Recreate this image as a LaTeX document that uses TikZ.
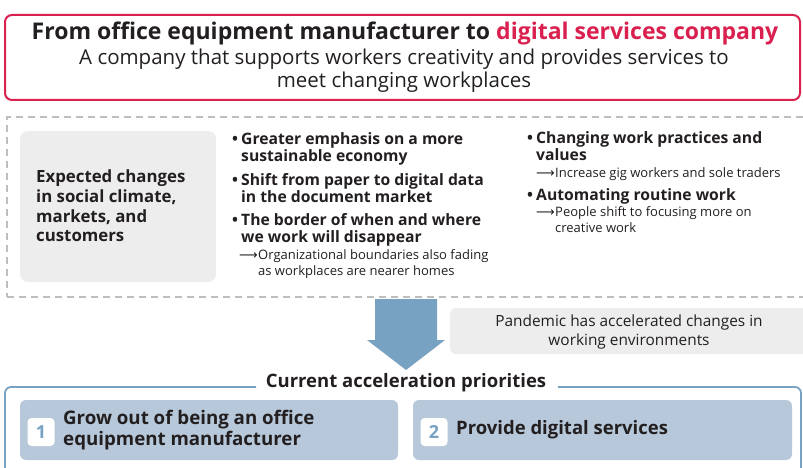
\documentclass[tikz,border=0pt]{standalone}
\usepackage{fontspec}
\setmainfont{Open Sans}
\newfontfamily\dvfont{DejaVu Sans}
\definecolor{tred}{HTML}{D9204F}
\definecolor{dgray}{HTML}{BEBEBE}
\definecolor{lgray}{HTML}{EDEDED}
\definecolor{tblue}{HTML}{78A2C1}
\definecolor{bfill}{HTML}{B6C8DA}
\definecolor{txt}{HTML}{231F20}
\tikzset{
  box/.style={anchor=north west, inner sep=0pt, outer sep=0pt},
  bul/.style={anchor=north west, inner sep=0pt, align=left, text=txt, font=\fontsize{15.7}{17.5}\selectfont\bfseries},
  sub/.style={anchor=north west, inner sep=0pt, align=left, text=txt, font=\fontsize{13}{16.5}\selectfont},
}
\newcommand{\bl}{\makebox[9pt][l]{•}}
\newcommand{\ar}{\makebox[19pt][l]{{\dvfont ⟶}}}
\begin{document}
\begin{tikzpicture}[x=1pt,y=-1pt]
\useasboundingbox (0,0) rectangle (803,468);
% top box
\node[box, draw=tred, line width=2pt, rounded corners=7pt, minimum width=795pt, minimum height=85pt] (top) at (5,15) {};
\node[text=txt, font=\fontsize{23}{25}\selectfont\bfseries, inner sep=0pt] (title) at (405,33) {From office equipment manufacturer to \textcolor{tred}{digital services company}};
\node[text=txt, font=\fontsize{20.5}{23}\selectfont, inner sep=0pt, align=center] (subt) at (404,71) {A company that supports workers creativity and provides services to\\meet changing workplaces};
% dashed box
\node[box, draw=dgray, line width=1.6pt, dash pattern=on 7pt off 5pt, minimum width=800pt, minimum height=180pt] (dash) at (7,117) {};
\node[box, fill=lgray, rounded corners=8pt, minimum width=196pt, minimum height=151pt] (exp) at (20,131) {};
\node[anchor=west, inner sep=0pt, align=left, text=txt, font=\fontsize{16.8}{19.7}\selectfont\bfseries] (expt) at (36,206) {Expected changes\\in social climate,\\markets, and\\customers};
% column 1
\node[bul] (b1) at (232,132) {\bl Greater emphasis on a more\\\hspace*{9pt}sustainable economy};
\node[bul] (b2) at (232,173) {\bl Shift from paper to digital data\\\hspace*{9pt}in the document market};
\node[bul] (b3) at (232,213) {\bl The border of when and where\\\hspace*{9pt}we work will disappear};
\node[sub] (s3) at (239,249) {\ar Organizational boundaries also fading\\\hspace*{19pt}as workplaces are nearer homes};
% column 2
\node[bul] (b4) at (527,131) {\bl Changing work practices and\\\hspace*{9pt}values};
\node[sub] (s4) at (536,167) {\ar Increase gig workers and sole traders};
\node[bul] (b5) at (527,188) {\bl Automating routine work};
\node[sub] (s5) at (536,206) {\ar People shift to focusing more on\\\hspace*{19pt}creative work};
% arrow
\fill[tblue] (375,299) -- (437,299) -- (437,340) -- (445,340) -- (406,370) -- (367,340) -- (375,340) -- cycle;
\coordinate (arrtip) at (406,370);
% pandemic
\node[box, fill=lgray, rounded corners=6pt, minimum width=360pt, minimum height=46pt] (pan) at (450,308) {};
\node[text=txt, font=\fontsize{15.4}{19}\selectfont, inner sep=0pt, align=center] (pant) at (629,332) {Pandemic has accelerated changes in\\working environments};
% bottom frame
\draw[tblue, line width=1.8pt, rounded corners=6pt] (256,387) -- (5,387) -- (5,475);
\draw[tblue, line width=1.8pt, rounded corners=6pt] (558,387) -- (801,387) -- (801,475);
\node[text=txt, font=\fontsize{18.5}{20}\selectfont\bfseries, inner sep=0pt] (cur) at (406,383) {Current acceleration priorities};
\node[box, fill=bfill, rounded corners=6pt, minimum width=378pt, minimum height=60pt] (p1) at (20,400) {};
\node[box, fill=bfill, rounded corners=6pt, minimum width=379pt, minimum height=60pt] (p2) at (413,400) {};
\node[fill=white, rounded corners=4pt, minimum width=27pt, minimum height=28pt, inner sep=0pt, text=tblue, font=\fontsize{18}{20}\selectfont\bfseries] (n1) at (41,432) {1};
\node[fill=white, rounded corners=4pt, minimum width=27pt, minimum height=28pt, inner sep=0pt, text=tblue, font=\fontsize{18}{20}\selectfont\bfseries] (n2) at (434,432) {2};
\node[anchor=west, inner sep=0pt, align=left, text=txt, font=\fontsize{18.7}{20.5}\selectfont\bfseries] (p1t) at (63,430) {Grow out of being an office\\equipment manufacturer};
\node[anchor=west, inner sep=0pt, text=txt, font=\fontsize{18.5}{20}\selectfont\bfseries] (p2t) at (456,430) {Provide digital services};
\end{tikzpicture}
\end{document}
